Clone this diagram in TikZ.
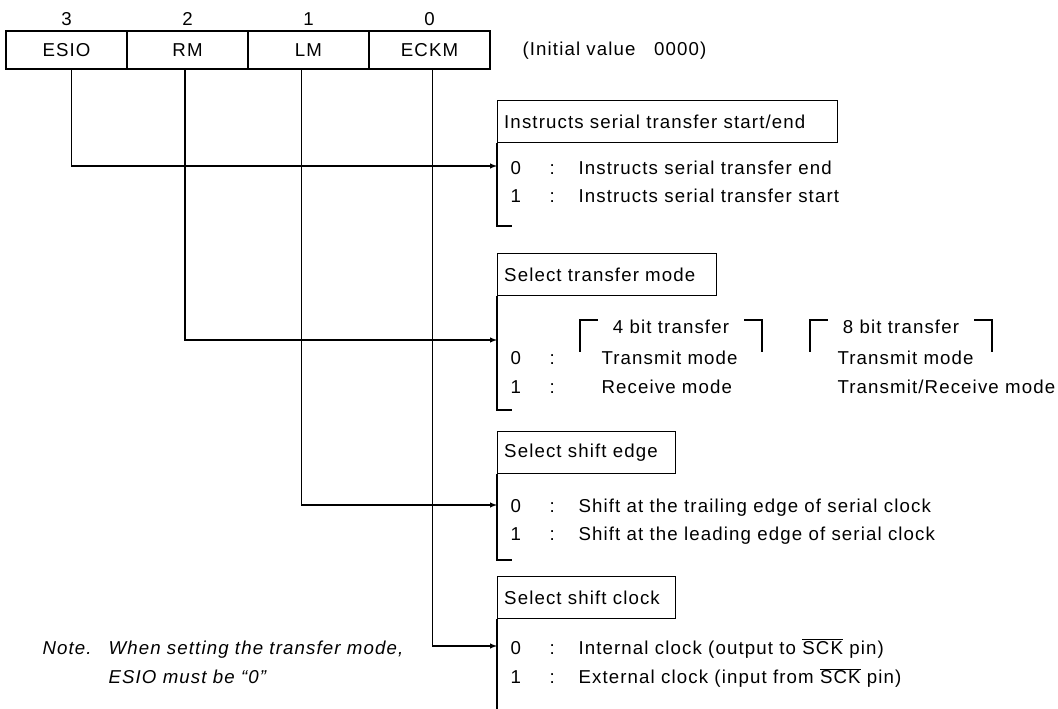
\documentclass[tikz,border=0pt]{standalone}
\usepackage{fontspec}
\setmainfont{Liberation Sans}[LetterSpace=6]
\usetikzlibrary{arrows,positioning,calc}

\tikzset{
  cell/.style={draw, minimum width=90.75pt, minimum height=28.5pt, inner sep=0pt},
  titlebox/.style={draw, anchor=north west, minimum height=31.5pt, inner xsep=5pt},
  val/.style={anchor=west, inner sep=0pt, text height=10pt, text depth=3pt},
}

\begin{document}
\begin{tikzpicture}[x=0.75pt, y=-0.75pt, line width=0.8pt, font=\fontsize{14}{16.5}\selectfont]
\useasboundingbox (0,0) rectangle (1058,709);

 % register
 \node[cell] (esio) at (66.5,50) {ESIO};
 \node[cell] (rm) at (187.5,50) {RM};
 \node[cell] (lm) at (308.5,50) {LM};
 \node[cell] (eckm) at (429.5,50) {ECKM};
 \node[above=0pt of esio] (n3) {3};
 \node[above=0pt of rm] (n2) {2};
 \node[above=0pt of lm] (n1) {1};
 \node[above=0pt of eckm] (n0) {0};
 \node[val] (init) at (522,51) {(Initial value\quad 0000)};

 % ESIO
 \node[titlebox, text width=245pt] (t1) at (497,100) {Instructs serial transfer start/end};
 \coordinate (in1) at (497,166);
 \coordinate (e1) at (512,226);
 \draw (t1.south west) |- (e1);
 \draw[-latex] ([xshift=3.4pt]esio.south) |- (in1);
 \node[val] (v10) at (510,170) {0};
 \node[val] (c10) at (549,170) {:};
 \node[val] (d10) at (578,170) {Instructs serial transfer end};
 \node[val] (v11) at (510,198) {1};
 \node[val] (c11) at (549,198) {:};
 \node[val] (d11) at (578,198) {Instructs serial transfer start};

 % RM
 \node[titlebox, text width=154pt] (t2) at (497,253) {Select transfer mode};
 \coordinate (in2) at (497,340);
 \coordinate (e2) at (512,410);
 \draw (t2.south west) |- (e2);
 \draw[-latex] ([xshift=-1.9pt]rm.south) |- (in2);
 \node (four) at (671,327) {4 bit transfer};
 \draw (580,352) |- (598,320);
 \draw (762,352) |- (744,320);
 \node (eight) at (901,327) {8 bit transfer};
 \draw (810,352) |- (828,320);
 \draw (992,352) |- (974,320);
 \node[val] (v20) at (510,360) {0};
 \node[val] (c20) at (549,360) {:};
 \node[val] (d20) at (601,360) {Transmit mode};
 \node[val] (f20) at (837,360) {Transmit mode};
 \node[val] (v21) at (510,389) {1};
 \node[val] (c21) at (549,389) {:};
 \node[val] (d21) at (601,389) {Receive mode};
 \node[val] (f21) at (837,389) {Transmit/Receive mode};

 % LM
 \node[titlebox, text width=123.5pt] (t3) at (497,431) {Select shift edge};
 \coordinate (in3) at (497,505);
 \coordinate (e3) at (512,560);
 \draw (t3.south west) |- (e3);
 \draw[-latex] ([xshift=-5.6pt]lm.south) |- (in3);
 \node[val] (v30) at (510,508) {0};
 \node[val] (c30) at (549,508) {:};
 \node[val] (d30) at (578,508) {Shift at the trailing edge of serial clock};
 \node[val] (v31) at (510,536) {1};
 \node[val] (c31) at (549,536) {:};
 \node[val] (d31) at (578,536) {Shift at the leading edge of serial clock};

 % ECKM
 \node[titlebox, text width=123.5pt] (t4) at (497,576) {Select shift clock};
 \coordinate (in4) at (497,646);
 \coordinate (e4) at (497,709);
 \draw (t4.south west) -- (e4);
 \draw[-latex] ([xshift=1.9pt]eckm.south) |- (in4);
 \node[val] (v40) at (510,650) {0};
 \node[val] (c40) at (549,650) {:};
 \node[val] (d40) at (578,650) {Internal clock (output to $\overline{\mbox{SCK}}$ pin)};
 \node[val] (v41) at (510,679) {1};
 \node[val] (c41) at (549,679) {:};
 \node[val] (d41) at (578,679) {External clock (input from $\overline{\mbox{SCK}}$ pin)};

 % note
 \node[val] (note) at (42,650) {\itshape Note.};
 \node[val] (nt1) at (108,650) {\itshape When setting the transfer mode,};
 \node[val] (nt2) at (108,679) {\itshape ESIO must be “0”};

\end{tikzpicture}
\end{document}
